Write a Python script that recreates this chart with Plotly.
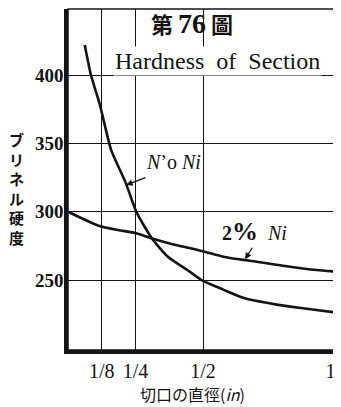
import plotly.graph_objects as go

# ---- data ----
no_ni_x = [0.062, 0.085, 0.117, 0.160, 0.212, 0.253, 0.309, 0.370, 0.452, 0.495, 0.575, 0.649, 0.773, 0.884, 1.0]
no_ni_y = [422, 400, 379, 345, 322, 300, 281, 267, 256, 250, 243, 237, 232, 229, 226]

ni2_x = [0.0, 0.117, 0.185, 0.253, 0.309, 0.370, 0.506, 0.575, 0.699, 0.822, 0.921, 1.0]
ni2_y = [300, 289.5, 286.6, 284.2, 280.6, 277.1, 270.7, 267.1, 263.4, 259.7, 257.3, 256]

x_tickvals = [0.125, 0.25, 0.5, 1.0]
x_ticktext = ["1/8", "1/4", "1/2", "1&nbsp;&nbsp;&nbsp;"]
y_tickvals = [250, 300, 350, 400]
y_ticktext = ["250", "300", "350", "400"]

INK = "#141414"
SERIF = "Liberation Serif, DejaVu Serif, serif"
CJK = "Noto Sans CJK JP"

fig = go.Figure()
fig.add_trace(go.Scatter(x=no_ni_x, y=no_ni_y, mode="lines", line=dict(color=INK, width=2.6, shape="spline", smoothing=0.6),
                         name="No Ni", showlegend=False, hoverinfo="skip"))
fig.add_trace(go.Scatter(x=ni2_x, y=ni2_y, mode="lines", line=dict(color=INK, width=2.6, shape="spline", smoothing=0.6),
                         name="2% Ni", showlegend=False, hoverinfo="skip"))

# white title box over grid
fig.add_shape(type="rect", xref="x", yref="paper", x0=0.256, x1=1.0, y0=(350-76)/341, y1=1.0,
              fillcolor="white", line=dict(width=0), layer="between")
# frame
fig.add_shape(type="rect", xref="paper", yref="paper", x0=0, x1=1, y0=0, y1=1,
              line=dict(color=INK, width=1.5), layer="above")

fig.update_xaxes(range=[0, 1.0], tickvals=x_tickvals, ticktext=x_ticktext, showgrid=True,
                 gridcolor=INK, gridwidth=1.3, zeroline=False, showline=True, linecolor=INK, linewidth=3.5,
                 ticks="", automargin=False, ticklabeloverflow="allow",
                 tickfont=dict(family=SERIF, size=20, color=INK))
fig.update_yaxes(range=[198.8, 448.3], tickvals=y_tickvals, ticktext=y_ticktext, showgrid=True,
                 gridcolor=INK, gridwidth=1.3, zeroline=False, showline=True, linecolor=INK, linewidth=3.5,
                 ticks="", automargin=False, ticklabelstandoff=-3,
                 tickfont=dict(family=SERIF, size=19, color=INK, weight="bold"))

def px(x):
    return (x - 68) / 270

def py(y):
    return (350 - y) / 341

common = dict(xref="paper", yref="paper", showarrow=False, xanchor="center", yanchor="middle")
ann = []
ann.append(dict(text="第 <span style='font-family:Liberation Serif;font-size:28px'>76</span> 圖", x=px(192), y=py(23),
                font=dict(family=CJK, size=22, color=INK, weight="bold"), **common))
ann.append(dict(text="Hardness&nbsp; of&nbsp; Section", x=px(217), y=py(61),
                bgcolor="white", font=dict(family=SERIF, size=24, color=INK), **common))
ann.append(dict(text="ブ<br>リ<br>ネ<br>ル<br>硬<br>度", x=px(16), y=py(188),
                font=dict(family=CJK, size=15, color=INK, weight="bold"), **common))
ann.append(dict(text="切口の直徑(<i>in</i>)", x=px(192), y=py(394),
                font=dict(family=CJK, size=16, color=INK), **common))
ann.append(dict(text="<i>N</i>ʼo <i>Ni</i>", x=px(173.5), y=py(162),
                font=dict(family=SERIF, size=20, color=INK), **common))
ann.append(dict(text="<b>2<span style='font-size:26px'>%</span></b>&nbsp;&nbsp;<i>Ni</i>", x=px(255), y=py(231),
                font=dict(family=SERIF, size=20, color=INK), **common))
ann.append(dict(text="", x=0.215, y=319.5, xref="x", yref="y", showarrow=True, ax=21, ay=-8,
                arrowhead=2, arrowsize=1, arrowwidth=1.3, arrowcolor=INK))
ann.append(dict(text="", x=0.656, y=265.2, xref="x", yref="y", showarrow=True, ax=8, ay=-13,
                arrowhead=2, arrowsize=1, arrowwidth=1.3, arrowcolor=INK))

# page has an 8px body margin, so the figure is sized to fit inside the window
fig.update_layout(width=333, height=399, margin=dict(l=60, r=3, t=1, b=57),
                  paper_bgcolor="white", plot_bgcolor="white", annotations=ann, showlegend=False)

fig.write_html("out.html")
